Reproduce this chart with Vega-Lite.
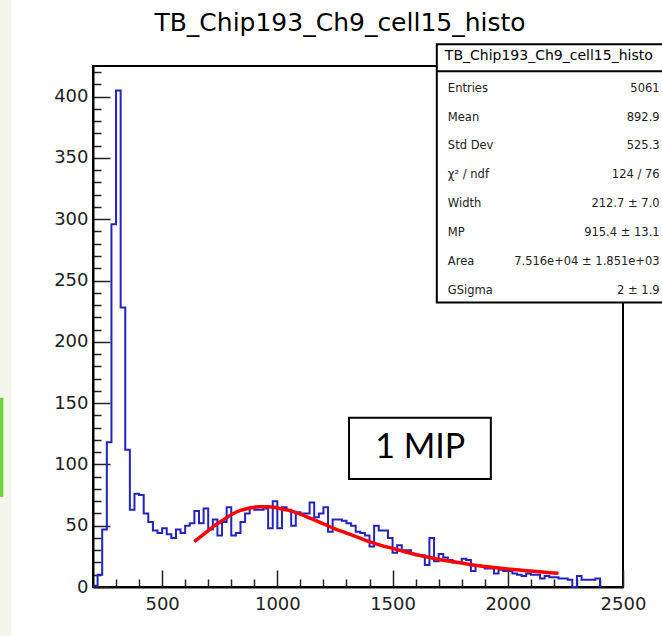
{
  "$schema": "https://vega.github.io/schema/vega-lite/v6.json",
  "width": 530,
  "height": 521,
  "autosize": {"type": "none"},
  "padding": {"left": 93, "top": 66, "right": 39, "bottom": 49},
  "background": "white",
  "config": {
    "view": {"stroke": "black", "strokeWidth": 2},
    "font": "DejaVu Sans",
    "axis": {"labelOverlap": false}
  },
  "datasets": {
    "hist": [
      {"adc": 200, "count": 1}, {"adc": 220, "count": 10}, {"adc": 240, "count": 47}, {"adc": 260, "count": 118},
      {"adc": 280, "count": 296}, {"adc": 300, "count": 405}, {"adc": 320, "count": 228}, {"adc": 340, "count": 112},
      {"adc": 360, "count": 63}, {"adc": 380, "count": 76}, {"adc": 400, "count": 75}, {"adc": 420, "count": 60},
      {"adc": 440, "count": 53}, {"adc": 460, "count": 46}, {"adc": 480, "count": 44}, {"adc": 500, "count": 48},
      {"adc": 520, "count": 43}, {"adc": 540, "count": 40}, {"adc": 560, "count": 47}, {"adc": 580, "count": 44},
      {"adc": 600, "count": 50}, {"adc": 620, "count": 52}, {"adc": 640, "count": 62}, {"adc": 660, "count": 52},
      {"adc": 680, "count": 64}, {"adc": 700, "count": 47}, {"adc": 720, "count": 55}, {"adc": 740, "count": 42},
      {"adc": 760, "count": 53}, {"adc": 780, "count": 65}, {"adc": 800, "count": 42}, {"adc": 820, "count": 44},
      {"adc": 840, "count": 53}, {"adc": 860, "count": 60}, {"adc": 880, "count": 65}, {"adc": 900, "count": 63},
      {"adc": 920, "count": 63}, {"adc": 940, "count": 64}, {"adc": 960, "count": 48}, {"adc": 980, "count": 70},
      {"adc": 1000, "count": 48}, {"adc": 1020, "count": 65}, {"adc": 1040, "count": 63}, {"adc": 1060, "count": 50},
      {"adc": 1080, "count": 61}, {"adc": 1100, "count": 60}, {"adc": 1120, "count": 60}, {"adc": 1140, "count": 69},
      {"adc": 1160, "count": 57}, {"adc": 1180, "count": 60}, {"adc": 1200, "count": 65}, {"adc": 1220, "count": 45},
      {"adc": 1240, "count": 55}, {"adc": 1260, "count": 55}, {"adc": 1280, "count": 54}, {"adc": 1300, "count": 52},
      {"adc": 1320, "count": 50}, {"adc": 1340, "count": 45}, {"adc": 1360, "count": 44}, {"adc": 1380, "count": 42},
      {"adc": 1400, "count": 33}, {"adc": 1420, "count": 50}, {"adc": 1440, "count": 46}, {"adc": 1460, "count": 46},
      {"adc": 1480, "count": 40}, {"adc": 1500, "count": 28}, {"adc": 1520, "count": 34}, {"adc": 1540, "count": 30},
      {"adc": 1560, "count": 30}, {"adc": 1580, "count": 27}, {"adc": 1600, "count": 26}, {"adc": 1620, "count": 26},
      {"adc": 1640, "count": 18}, {"adc": 1660, "count": 40}, {"adc": 1680, "count": 21}, {"adc": 1700, "count": 27},
      {"adc": 1720, "count": 24}, {"adc": 1740, "count": 22}, {"adc": 1760, "count": 20}, {"adc": 1780, "count": 20},
      {"adc": 1800, "count": 23}, {"adc": 1820, "count": 22}, {"adc": 1840, "count": 13}, {"adc": 1860, "count": 18},
      {"adc": 1880, "count": 17}, {"adc": 1900, "count": 15}, {"adc": 1920, "count": 15}, {"adc": 1940, "count": 11},
      {"adc": 1960, "count": 14}, {"adc": 1980, "count": 13}, {"adc": 2000, "count": 13}, {"adc": 2020, "count": 11},
      {"adc": 2040, "count": 10}, {"adc": 2060, "count": 9}, {"adc": 2080, "count": 11}, {"adc": 2100, "count": 10},
      {"adc": 2120, "count": 10}, {"adc": 2140, "count": 7}, {"adc": 2160, "count": 9}, {"adc": 2180, "count": 8},
      {"adc": 2200, "count": 8}, {"adc": 2220, "count": 7}, {"adc": 2240, "count": 7}, {"adc": 2260, "count": 6},
      {"adc": 2280, "count": 0}, {"adc": 2300, "count": 9}, {"adc": 2320, "count": 6}, {"adc": 2340, "count": 6},
      {"adc": 2360, "count": 6}, {"adc": 2380, "count": 7}, {"adc": 2400, "count": 0}
    ],
    "fit": [
      {"adc": 640, "f": 37}, {"adc": 680, "f": 43}, {"adc": 720, "f": 49}, {"adc": 760, "f": 54},
      {"adc": 800, "f": 59}, {"adc": 840, "f": 62.5}, {"adc": 880, "f": 64.5}, {"adc": 920, "f": 65.5},
      {"adc": 960, "f": 65.5}, {"adc": 1000, "f": 64.5}, {"adc": 1050, "f": 62.5}, {"adc": 1100, "f": 59.5},
      {"adc": 1150, "f": 55.5}, {"adc": 1200, "f": 51.5}, {"adc": 1250, "f": 47.5}, {"adc": 1300, "f": 44},
      {"adc": 1350, "f": 40.5}, {"adc": 1400, "f": 37}, {"adc": 1450, "f": 34}, {"adc": 1500, "f": 31.5},
      {"adc": 1550, "f": 29}, {"adc": 1600, "f": 26.5}, {"adc": 1650, "f": 24.5}, {"adc": 1700, "f": 22.5},
      {"adc": 1750, "f": 21}, {"adc": 1800, "f": 19.5}, {"adc": 1850, "f": 18}, {"adc": 1900, "f": 16.8},
      {"adc": 1950, "f": 15.7}, {"adc": 2000, "f": 14.7}, {"adc": 2050, "f": 13.8}, {"adc": 2100, "f": 13},
      {"adc": 2150, "f": 12.2}, {"adc": 2200, "f": 11.5}, {"adc": 2220, "f": 11.3}
    ],
    "one": [{"label": "1 MIP", "header": "TB_Chip193_Ch9_cell15_histo", "title": "TB_Chip193_Ch9_cell15_histo"}]
  },
  "layer": [
    {
      "data": {"name": "one"},
      "mark": {"type": "rect", "fill": "#f4f6ec", "clip": false},
      "encoding": {
        "x": {"datum": -205, "type": "quantitative"},
        "x2": {"datum": -154},
        "y": {"datum": 480, "type": "quantitative"},
        "y2": {"datum": -45}
      }
    },
    {
      "data": {"name": "one"},
      "mark": {"type": "rect", "fill": "#6bd43c", "clip": false},
      "encoding": {
        "x": {"datum": -205, "type": "quantitative"},
        "x2": {"datum": -189},
        "y": {"datum": 154.4, "type": "quantitative"},
        "y2": {"datum": 73.5}
      }
    },
    {
      "data": {"name": "hist"},
      "mark": {"type": "line", "interpolate": "step-after", "color": "#2323bd", "strokeWidth": 2},
      "encoding": {
        "x": {
          "field": "adc", "type": "quantitative",
          "scale": {"domain": [200, 2500], "nice": false, "zero": false},
          "axis": {
            "title": null, "grid": false, "tickCount": 500,
            "values": [300, 400, 500, 600, 700, 800, 900, 1000, 1100, 1200, 1300, 1400, 1500, 1600, 1700, 1800, 1900, 2000, 2100, 2200, 2300, 2400, 2500],
            "format": "d",
            "labelExpr": "datum.value % 500 === 0 ? datum.label : ''",
            "labelFontSize": {"condition": {"test": "datum.value % 500 === 0", "value": 18}, "value": 0},
            "tickSize": {"condition": {"test": "datum.value % 500 === 0", "value": -17}, "value": -8},
            "tickColor": "#222", "tickWidth": 1.5,
            "domainColor": "black", "domainWidth": 2,
            "labelFont": "DejaVu Sans", "labelColor": "#222",
            "labelPadding": 25, "labelFlush": false, "labelOverlap": false
          }
        },
        "y": {
          "field": "count", "type": "quantitative",
          "scale": {"domain": [0, 425], "nice": false},
          "axis": {
            "title": null, "grid": false, "tickCount": 500,
            "values": [0, 10, 20, 30, 40, 50, 60, 70, 80, 90, 100, 110, 120, 130, 140, 150, 160, 170, 180, 190, 200, 210, 220, 230, 240, 250, 260, 270, 280, 290, 300, 310, 320, 330, 340, 350, 360, 370, 380, 390, 400, 410, 420],
            "format": "d",
            "labelExpr": "datum.value % 50 === 0 ? datum.label : ''",
            "labelFontSize": {"condition": {"test": "datum.value % 50 === 0", "value": 18}, "value": 0},
            "tickSize": {"condition": {"test": "datum.value % 50 === 0", "value": -17}, "value": -8},
            "tickColor": "#222", "tickWidth": 1.5,
            "domainColor": "black", "domainWidth": 2,
            "labelFont": "DejaVu Sans", "labelColor": "#222",
            "labelPadding": 22, "labelFlush": false, "labelOverlap": false
          }
        }
      }
    },
    {
      "data": {"name": "fit"},
      "mark": {"type": "line", "interpolate": "monotone", "color": "#ff0000", "strokeWidth": 3.5},
      "encoding": {
        "x": {"field": "adc", "type": "quantitative"},
        "y": {"field": "f", "type": "quantitative"}
      }
    },
    {
      "data": {"name": "one"},
      "mark": {"type": "rect", "fill": "white", "stroke": "black", "strokeWidth": 2},
      "encoding": {
        "x": {"datum": 1311, "type": "quantitative"},
        "x2": {"datum": 1926.5},
        "y": {"datum": 138, "type": "quantitative"},
        "y2": {"datum": 88.2}
      }
    },
    {
      "data": {"name": "one"},
      "mark": {"type": "text", "font": "Lato", "fontSize": 34, "align": "center", "baseline": "middle", "color": "black"},
      "encoding": {
        "x": {"datum": 1620, "type": "quantitative"},
        "y": {"datum": 113.6, "type": "quantitative"},
        "text": {"field": "label"}
      }
    },
    {
      "data": {"name": "one"},
      "mark": {"type": "text", "font": "DejaVu Sans", "fontSize": 25, "align": "center", "baseline": "alphabetic", "color": "black", "clip": false},
      "encoding": {
        "x": {"datum": 1272, "type": "quantitative"},
        "y": {"datum": 453.6, "type": "quantitative"},
        "text": {"field": "title"}
      }
    },
    {
      "data": {"name": "one"},
      "mark": {"type": "rect", "fill": "white", "stroke": "black", "strokeWidth": 2, "clip": false},
      "encoding": {
        "x": {"datum": 1692, "type": "quantitative"},
        "x2": {"datum": 2700},
        "y": {"datum": 442.8, "type": "quantitative"},
        "y2": {"datum": 232}
      }
    },
    {
      "data": {"name": "one"},
      "mark": {"type": "rule", "color": "black", "strokeWidth": 2, "clip": false},
      "encoding": {
        "x": {"datum": 1692, "type": "quantitative"},
        "x2": {"datum": 2700},
        "y": {"datum": 420.8, "type": "quantitative"}
      }
    },
    {
      "data": {"name": "one"},
      "mark": {"type": "text", "fontSize": 14, "align": "center", "baseline": "middle", "color": "black"},
      "encoding": {
        "x": {"datum": 2178, "type": "quantitative"},
        "y": {"datum": 433, "type": "quantitative"},
        "text": {"field": "header"}
      }
    },
    {
      "data": {"name": "one"},
      "mark": {"type": "text", "fontSize": 11.5, "align": "left", "baseline": "alphabetic", "color": "#222", "lineHeight": 28.86,
        "text": ["Entries", "Mean", "Std Dev", "χ² / ndf", "Width", "MP", "Area", "GSigma"]},
      "encoding": {
        "x": {"datum": 1740, "type": "quantitative"},
        "y": {"datum": 404, "type": "quantitative"}
      }
    },
    {
      "data": {"name": "one"},
      "mark": {"type": "text", "fontSize": 11.5, "align": "right", "baseline": "alphabetic", "color": "#222", "lineHeight": 28.86,
        "text": ["5061", "892.9", "525.3", "124 / 76", "212.7 ± 7.0", "915.4 ± 13.1", "7.516e+04 ± 1.851e+03", "2 ± 1.9"]},
      "encoding": {
        "x": {"datum": 2659, "type": "quantitative"},
        "y": {"datum": 404, "type": "quantitative"}
      }
    }
  ]
}
